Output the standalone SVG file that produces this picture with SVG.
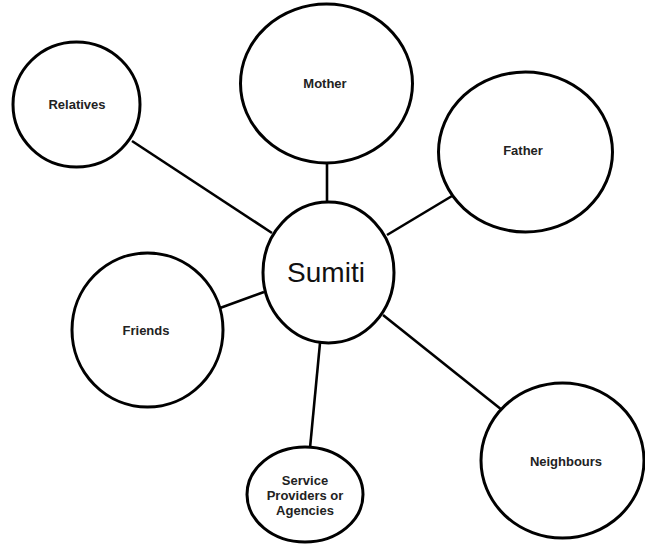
<svg xmlns="http://www.w3.org/2000/svg" width="645" height="548" viewBox="0 0 645 548">
<style>
.n{fill:#fff;stroke:#000;stroke-width:3}
.c line{stroke:#000;stroke-width:2.6}
.t{font-family:"Liberation Sans",Arial,sans-serif;font-weight:bold;font-size:13px;fill:#222;text-anchor:middle}
.m{font-family:"Liberation Sans",Arial,sans-serif;font-size:28px;fill:#111;text-anchor:middle}
</style>
<rect width="645" height="548" fill="#fff"/>
<g class="c" id="connectors">
<line x1="327" y1="163" x2="327" y2="202"/>
<line x1="132" y1="141" x2="272" y2="233"/>
<line x1="452" y1="196" x2="387" y2="235"/>
<line x1="220" y1="308" x2="264" y2="292"/>
<line x1="320" y1="343" x2="310" y2="448"/>
<line x1="383" y1="315" x2="502" y2="410"/>
</g>
<g id="relatives"><ellipse class="n" cx="76.5" cy="104.5" rx="63.5" ry="62.5"/><text class="t" x="77" y="109">Relatives</text></g>
<g id="mother"><ellipse class="n" cx="326.5" cy="83.5" rx="86" ry="79.5"/><text class="t" x="325" y="88">Mother</text></g>
<g id="father"><ellipse class="n" cx="525.5" cy="152" rx="87" ry="80"/><text class="t" x="523" y="155">Father</text></g>
<g id="sumiti"><ellipse class="n" cx="328.5" cy="272.5" rx="65.5" ry="70.5"/><text class="m" x="326" y="282">Sumiti</text></g>
<g id="friends"><ellipse class="n" cx="147.5" cy="330" rx="75.5" ry="77"/><text class="t" x="146" y="335">Friends</text></g>
<g id="service"><ellipse class="n" cx="305" cy="494.5" rx="58" ry="47.5"/><text class="t" x="305" y="485">Service</text><text class="t" x="305" y="500">Providers or</text><text class="t" x="305" y="515">Agencies</text></g>
<g id="neighbours"><ellipse class="n" cx="562.5" cy="460.5" rx="81.5" ry="77.5"/><text class="t" x="566" y="466">Neighbours</text></g>
</svg>
